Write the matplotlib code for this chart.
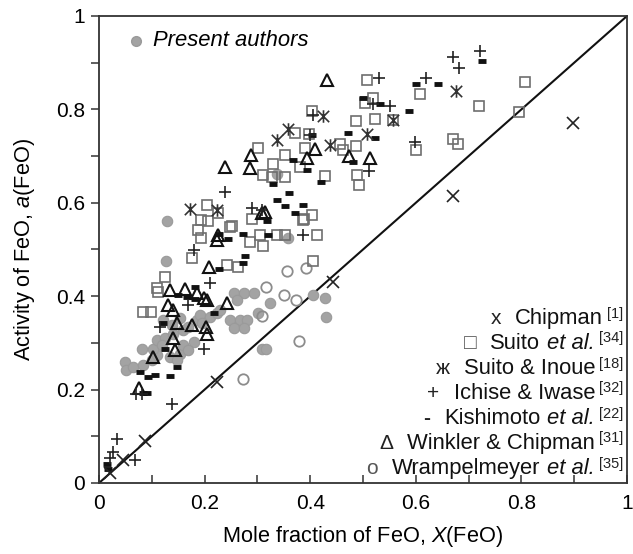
import matplotlib
matplotlib.use("Agg")
import matplotlib.pyplot as plt
from matplotlib.path import Path
from matplotlib.ticker import MultipleLocator

plt.rcParams['font.family'] = ['Liberation Sans', 'DejaVu Sans']
plt.rcParams['mathtext.fontset'] = 'custom'
plt.rcParams['mathtext.rm'] = 'Liberation Sans'
plt.rcParams['mathtext.it'] = 'Liberation Sans:italic'

# ---------------- data ----------------
chipman_x = [0.021, 0.046, 0.087, 0.223, 0.444, 0.671, 0.898]
chipman_y = [0.021, 0.049, 0.091, 0.217, 0.431, 0.615, 0.770]

suito_inoue_x = [0.172, 0.223, 0.337, 0.358, 0.425, 0.438, 0.508, 0.556, 0.676]
suito_inoue_y = [0.586, 0.585, 0.734, 0.757, 0.786, 0.724, 0.747, 0.777, 0.839]

ichise_x = [0.021, 0.027, 0.034, 0.068, 0.071, 0.082, 0.138, 0.116, 0.169, 0.198,
            0.210, 0.179, 0.239, 0.289, 0.308, 0.387, 0.400, 0.406, 0.512, 0.518,
            0.531, 0.551, 0.598, 0.619, 0.670, 0.682, 0.722]
ichise_y = [0.054, 0.067, 0.094, 0.049, 0.190, 0.190, 0.169, 0.333, 0.381, 0.288,
            0.428, 0.499, 0.624, 0.588, 0.585, 0.531, 0.745, 0.788, 0.669, 0.812,
            0.868, 0.807, 0.731, 0.868, 0.912, 0.888, 0.924]

kishimoto_x = [0.015, 0.017, 0.084, 0.090, 0.078, 0.093, 0.106, 0.134, 0.148, 0.125,
               0.122, 0.150, 0.182, 0.182, 0.166, 0.217, 0.227, 0.227, 0.245, 0.273,
               0.277, 0.273, 0.320, 0.318, 0.330, 0.337, 0.359, 0.352, 0.371, 0.387,
               0.368, 0.393, 0.420, 0.403, 0.472, 0.482, 0.500, 0.532, 0.523, 0.587,
               0.600, 0.642, 0.725]
kishimoto_y = [0.040, 0.030, 0.192, 0.193, 0.237, 0.228, 0.231, 0.230, 0.249, 0.288,
               0.343, 0.403, 0.420, 0.393, 0.399, 0.363, 0.458, 0.533, 0.523, 0.533,
               0.486, 0.471, 0.531, 0.560, 0.640, 0.605, 0.620, 0.593, 0.578, 0.595,
               0.692, 0.670, 0.645, 0.745, 0.749, 0.688, 0.825, 0.811, 0.738, 0.797,
               0.854, 0.854, 0.904]

winkler_x = [0.076, 0.103, 0.144, 0.141, 0.147, 0.176, 0.203, 0.204, 0.131, 0.141,
             0.134, 0.163, 0.185, 0.204, 0.243, 0.198, 0.209, 0.223, 0.226, 0.239,
             0.286, 0.287, 0.308, 0.314, 0.393, 0.409, 0.431, 0.473, 0.514]
winkler_y = [0.203, 0.269, 0.285, 0.310, 0.342, 0.338, 0.335, 0.320, 0.381, 0.370,
             0.413, 0.415, 0.406, 0.392, 0.385, 0.396, 0.463, 0.520, 0.531, 0.676,
             0.674, 0.702, 0.578, 0.581, 0.697, 0.715, 0.863, 0.700, 0.695]

suito_x = [0.083, 0.098, 0.109, 0.112, 0.125, 0.176, 0.188, 0.194, 0.194, 0.207,
           0.204, 0.226, 0.248, 0.242, 0.264, 0.251, 0.286, 0.311, 0.289, 0.305,
           0.338, 0.352, 0.412, 0.406, 0.311, 0.327, 0.352, 0.330, 0.380, 0.387,
           0.302, 0.352, 0.371, 0.390, 0.398, 0.403, 0.404, 0.388, 0.428, 0.456,
           0.462, 0.487, 0.488, 0.493, 0.487, 0.522, 0.556, 0.504, 0.519, 0.507,
           0.608, 0.601, 0.670, 0.679, 0.720, 0.796, 0.807]
suito_y = [0.367, 0.367, 0.417, 0.408, 0.442, 0.481, 0.542, 0.524, 0.563, 0.560,
           0.595, 0.578, 0.549, 0.467, 0.463, 0.550, 0.515, 0.507, 0.565, 0.531,
           0.531, 0.531, 0.531, 0.476, 0.660, 0.656, 0.655, 0.683, 0.677, 0.563,
           0.717, 0.702, 0.750, 0.718, 0.747, 0.797, 0.574, 0.565, 0.658, 0.726,
           0.713, 0.722, 0.660, 0.638, 0.776, 0.779, 0.777, 0.813, 0.825, 0.863,
           0.833, 0.712, 0.736, 0.726, 0.807, 0.794, 0.858]

wramp_x = [0.272, 0.379, 0.308, 0.374, 0.350, 0.316, 0.357, 0.392]
wramp_y = [0.223, 0.303, 0.358, 0.392, 0.403, 0.420, 0.455, 0.461]

present_x = [0.049, 0.052, 0.065, 0.084, 0.100, 0.109, 0.103, 0.109, 0.125, 0.119,
             0.141, 0.160, 0.169, 0.153, 0.138, 0.185, 0.191, 0.210, 0.223, 0.229,
             0.195, 0.122, 0.135, 0.153, 0.160, 0.179, 0.169, 0.147, 0.081, 0.255,
             0.274, 0.293, 0.261, 0.248, 0.267, 0.280, 0.255, 0.274, 0.301, 0.308,
             0.317, 0.405, 0.428, 0.430, 0.324, 0.337, 0.358, 0.128, 0.127]
present_y = [0.260, 0.242, 0.249, 0.253, 0.263, 0.274, 0.288, 0.306, 0.310, 0.295,
             0.320, 0.328, 0.335, 0.353, 0.338, 0.349, 0.360, 0.356, 0.363, 0.370,
             0.342, 0.349, 0.270, 0.277, 0.295, 0.302, 0.285, 0.263, 0.286, 0.406,
             0.406, 0.406, 0.392, 0.349, 0.349, 0.349, 0.331, 0.331, 0.363, 0.288,
             0.288, 0.403, 0.396, 0.355, 0.386, 0.662, 0.524, 0.561, 0.476]

legend_markers = ['x', '□', 'ж', '+', '-', 'Δ', 'o']
legend_names = [[('Chipman', 'normal')],
                [('Suito', 'normal'), ('et al.', 'italic')],
                [('Suito & Inoue', 'normal')],
                [('Ichise & Iwase', 'normal')],
                [('Kishimoto', 'normal'), ('et al.', 'italic')],
                [('Winkler & Chipman', 'normal')],
                [('Wrampelmeyer', 'normal'), ('et al.', 'italic')]]
legend_refs = ['[1]', '[34]', '[18]', '[32]', '[22]', '[31]', '[35]']

# ---------------- figure ----------------
W, H = 633, 554
fig = plt.figure(figsize=(W / 100, H / 100), dpi=100)
AX_L, AX_B, AX_W, AX_H = 99, 71, 528, 467
ax = fig.add_axes([AX_L / W, AX_B / H, AX_W / W, AX_H / H])

zh_marker = Path([(-1, -1), (1, 1), (-1, 1), (1, -1), (0, -1.1), (0, 1.1)],
                 [Path.MOVETO, Path.LINETO, Path.MOVETO, Path.LINETO, Path.MOVETO, Path.LINETO])

ax.plot([0, 1], [0, 1], color='#111111', lw=1.5, zorder=1)

ax.plot(present_x, present_y, 'o', ms=7.5, mfc='#a3a3a3', mec='#9a9a9a', mew=0.8, zorder=2)
ax.plot(wramp_x, wramp_y, 'o', ms=7.5, mfc='none', mec='#8c8c8c', mew=1.3, zorder=3)
ax.plot(suito_x, suito_y, 's', ms=6.8, mfc='none', mec='#6e6e6e', mew=1.2, zorder=3)
ax.plot(winkler_x, winkler_y, '^', ms=8, mfc='none', mec='#111111', mew=1.5, zorder=4)
ax.plot(kishimoto_x, kishimoto_y, '_', ms=6, mec='#111111', mew=3.5, zorder=4)
ax.plot(ichise_x, ichise_y, '+', ms=9, mec='#222222', mew=1.2, zorder=4)
ax.plot(suito_inoue_x, suito_inoue_y, marker=zh_marker, ls='none', ms=9, mec='#333333',
        mew=1.2, zorder=4)
ax.plot(chipman_x, chipman_y, 'x', ms=8, mec='#222222', mew=1.2, zorder=4)

ax.set_xlim(0, 1)
ax.set_ylim(0, 1)
ax.xaxis.set_major_locator(MultipleLocator(0.2))
ax.yaxis.set_major_locator(MultipleLocator(0.2))
ax.xaxis.set_minor_locator(MultipleLocator(0.1))
ax.yaxis.set_minor_locator(MultipleLocator(0.1))
fmt = lambda v, p: '0' if abs(v) < 1e-9 else ('1' if abs(v - 1) < 1e-9 else f'{v:.1f}')
ax.xaxis.set_major_formatter(plt.FuncFormatter(fmt))
ax.yaxis.set_major_formatter(plt.FuncFormatter(fmt))
ax.tick_params(axis='both', which='major', labelsize=15, length=6, width=1.1, color='#333333')
ax.tick_params(axis='both', which='minor', length=6, width=1.1, color='#333333')
ax.tick_params(axis='x', which='both', direction='in', pad=8)
ax.tick_params(axis='y', which='both', direction='out', pad=4)
for s in ax.spines.values():
    s.set_linewidth(1.3)
    s.set_color('#333333')

ax.set_xlabel(r'Mole fraction of FeO, $\it{X}$(FeO)', fontsize=15.7, labelpad=8)
ax.set_ylabel(r'Activity of FeO, $\it{a}$(FeO)', fontsize=15.7, labelpad=14)

# "Present authors" legend
ax.plot([0.071], [0.947], 'o', ms=7, mfc='#a3a3a3', mec='#9a9a9a', clip_on=False, zorder=5)
ax.text(0.103, 0.947, 'Present authors', style='italic', fontsize=15.8, va='center', ha='left')

# main legend: rows laid out manually in pixels, right-aligned
fig.canvas.draw()
renderer = fig.canvas.get_renderer()
row_y = [0.353, 0.300, 0.246, 0.193, 0.139, 0.086, 0.032]
right_px = AX_L + 0.993 * AX_W
FS, FS_REF = 15.8, 10.5


def put(x_right, y_base, s, **kw):
    t = fig.text(x_right / W, y_base / H, s, ha='right', va='baseline', **kw)
    return t, t.get_window_extent(renderer).width


for mk, parts, ref, yy in zip(legend_markers, legend_names, legend_refs, row_y):
    base = AX_B + yy * AX_H - 6
    x = right_px
    _, w = put(x, base + 6.5, ref, fontsize=FS_REF, color='#222222')
    x -= w + 4
    for i, (s, st) in enumerate(reversed(parts)):
        _, w = put(x, base, s, fontsize=FS, style=st, color='#111111')
        x -= w
        if i < len(parts) - 1:
            x -= 7
    mprops = dict(fontsize=15, color='#222222')
    if mk == '-':
        mprops['fontweight'] = 'bold'
    if mk in ('□', 'o'):
        mprops['color'] = '#555555'
    put(x - 14, base, mk, **mprops)

fig.savefig('out.png', dpi=100)
